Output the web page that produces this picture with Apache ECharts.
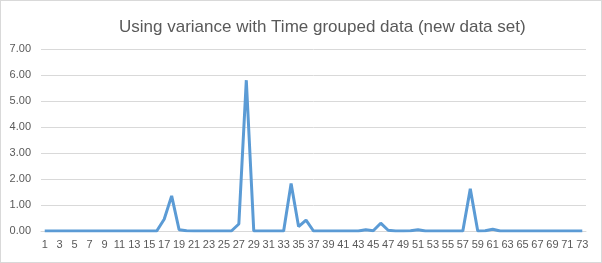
<!DOCTYPE html>
<html>
<head>
<meta charset="utf-8">
<script src="https://cdn.jsdelivr.net/npm/echarts@6/dist/echarts.min.js"></script>
<style>
html,body{margin:0;padding:0;background:#fff;}
#c{width:602px;height:263px;box-sizing:border-box;border:1px solid #d9d9d9;}
</style>
</head>
<body>
<div id="c"></div>
<script>
const titleText = "Using variance with Time grouped data (new data set)";
const categories = [];
for (let i = 1; i <= 73; i++) categories.push(String(i));
const values = [
  0,0,0,0,0,0,0,0,0,0,      // 1-10
  0,0,0,0,0,0,0.45,1.35,0.05,0.01, // 11-20
  0,0,0,0,0,0,0.27,5.8,0,0, // 21-30
  0,0,0,1.83,0.17,0.42,0,0,0,0, // 31-40
  0,0,0,0.05,0.01,0.3,0.03,0,0,0.01, // 41-50
  0.05,0,0,0,0,0,0,1.62,0,0.01, // 51-60
  0.07,0,0,0,0,0,0,0,0,0, // 61-70
  0,0,0 // 71-73
];
const yMin = 0, yMax = 7, yStep = 1;

const chart = echarts.init(document.getElementById('c'), null, {renderer:'canvas'});
chart.setOption({
  animation:false,
  title:{
    text:titleText, left:113, top:13,
    textStyle:{fontFamily:'Liberation Sans', fontSize:17, fontWeight:'normal', color:'#595959'}
  },
  grid:{left:40, right:15, top:48, bottom:31, containLabel:false},
  xAxis:{
    type:'category', data:categories, boundaryGap:true,
    axisLine:{lineStyle:{color:'#d9d9d9'}},
    axisTick:{show:false},
    axisLabel:{interval:1, color:'#595959', fontFamily:'Liberation Sans', fontSize:11, margin:8}
  },
  yAxis:{
    type:'value', min:yMin, max:yMax, interval:yStep,
    axisLine:{show:false}, axisTick:{show:false},
    splitLine:{lineStyle:{color:'#d9d9d9'}},
    axisLabel:{formatter:v=>v.toFixed(2), color:'#595959', fontFamily:'Liberation Sans', fontSize:11, margin:10}
  },
  series:[{
    type:'line', data:values, showSymbol:false, symbol:'none',
    lineStyle:{color:'#5b9bd5', width:3}, itemStyle:{color:'#5b9bd5'}
  }]
});
</script>
</body>
</html>
